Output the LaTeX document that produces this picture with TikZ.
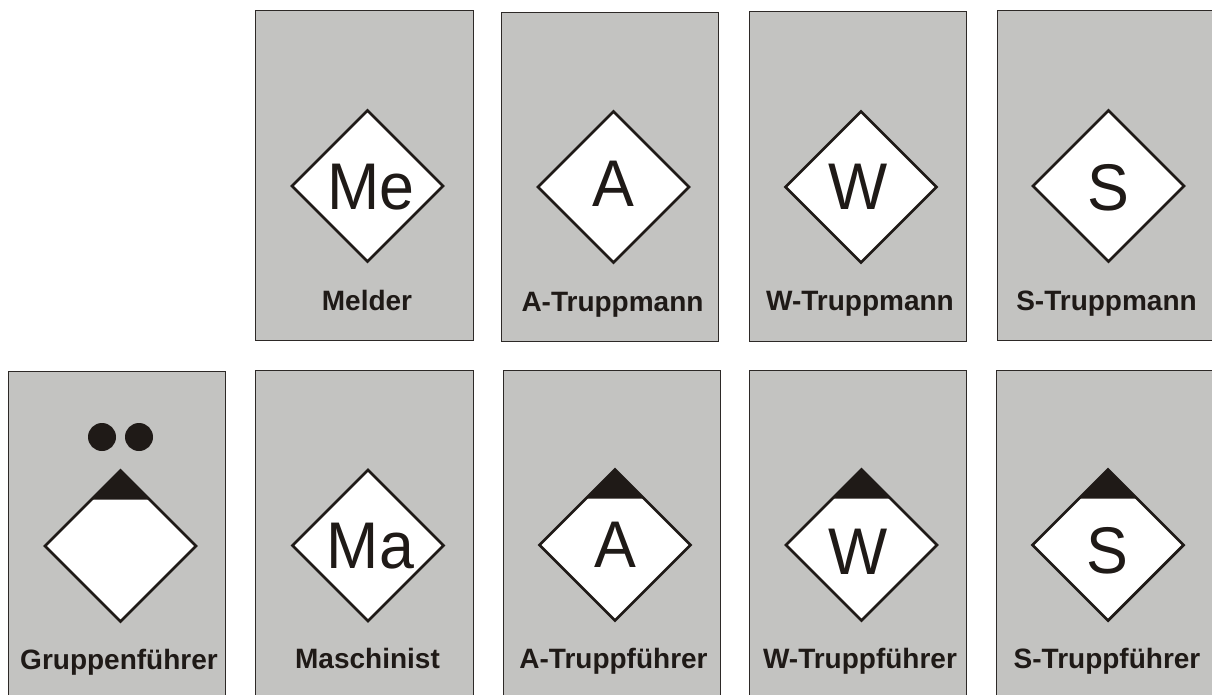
\documentclass[tikz,border=0pt]{standalone}
\usepackage{fontspec}
\setmainfont{Liberation Sans}
\newfontfamily\glyphfont[FakeStretch=0.95]{Liberation Sans}
\usetikzlibrary{shapes.geometric}
\definecolor{cardgray}{HTML}{C3C3C1}
\definecolor{inkblack}{HTML}{1F1A17}
\tikzset{
  x=1pt,y=-1pt,
  cardbox/.style={draw=inkblack!85!gray,line width=0.9pt,fill=cardgray},
  rank/.style={shape=diamond,draw=inkblack,fill=white,line width=2.8pt,aspect=1,inner sep=0pt,outer sep=0pt,minimum width=151pt,minimum height=151pt},
  glyph/.style={anchor=base,inner sep=0pt,text=inkblack,font=\glyphfont\fontsize{66}{72}\selectfont},
  caption/.style={anchor=base,inner sep=0pt,text=inkblack,font=\fontsize{28}{31}\selectfont\bfseries},
  dot/.style={shape=circle,fill=inkblack,inner sep=0pt,minimum size=28pt}
}
% \cardblock{name}{x1}{y1}{x2}{y2}{cx}{cy}
\newcommand{\cardblock}[7]{%
  \draw[cardbox] (#2,#3) rectangle (#4,#5);
  \node[rank] (#1) at (#6,#7) {};
}
\newcommand{\chevron}[1]{%
  \fill[inkblack] (#1.north) -- ++(-29,29) -- ++(58,0) -- cycle;
}
\begin{document}
\begin{tikzpicture}
\useasboundingbox (0,0) rectangle (1212,695);
\clip (0,0) rectangle (1212,695);
% top row
\cardblock{me}{255.5}{10.5}{473}{340.5}{367.5}{186}
\node[glyph] (mel) at (371,209.5) {Me};
\node[caption] (mecap) at (367,310) {Melder};
\cardblock{at}{501}{12}{718.5}{341.5}{613.5}{187}
\node[glyph] (atl) at (613.5,207) {A};
\node[caption] (atcap) at (612.5,311) {A-Truppmann};
\cardblock{wt}{749}{11}{966.5}{341}{861}{187}
\node[glyph] (wtl) at (858.5,210) {W};
\node[caption] (wtcap) at (860,310) {W-Truppmann};
\cardblock{st}{997}{10.7}{1214}{340}{1108.5}{186}
\node[glyph] (stl) at (1108.5,210.5) {S};
\node[caption] (stcap) at (1106.5,310) {S-Truppmann};
% bottom row
\cardblock{gf}{8}{371}{225.5}{720}{120.5}{546}
\chevron{gf}
\node[dot] (d1) at (102,437) {};
\node[dot] (d2) at (139,437) {};
\node[caption] (gfcap) at (119,669) {Gruppenführer};
\cardblock{ma}{255.5}{370}{473}{720}{368}{545.5}
\node[glyph] (mal) at (370.5,568) {Ma};
\node[caption] (macap) at (367.5,668) {Maschinist};
\cardblock{af}{503}{370.5}{720}{720}{615}{545}
\chevron{af}
\node[glyph] (afl) at (615,567) {A};
\node[caption] (afcap) at (613.5,668) {A-Truppführer};
\cardblock{wf}{749}{370}{966.5}{720}{861.5}{545}
\chevron{wf}
\node[glyph] (wfl) at (858,574) {W};
\node[caption] (wfcap) at (860,668) {W-Truppführer};
\cardblock{sf}{996}{370}{1214}{720}{1108}{545}
\chevron{sf}
\node[glyph] (sfl) at (1107.5,573) {S};
\node[caption] (sfcap) at (1107,668) {S-Truppführer};
\end{tikzpicture}
\end{document}
